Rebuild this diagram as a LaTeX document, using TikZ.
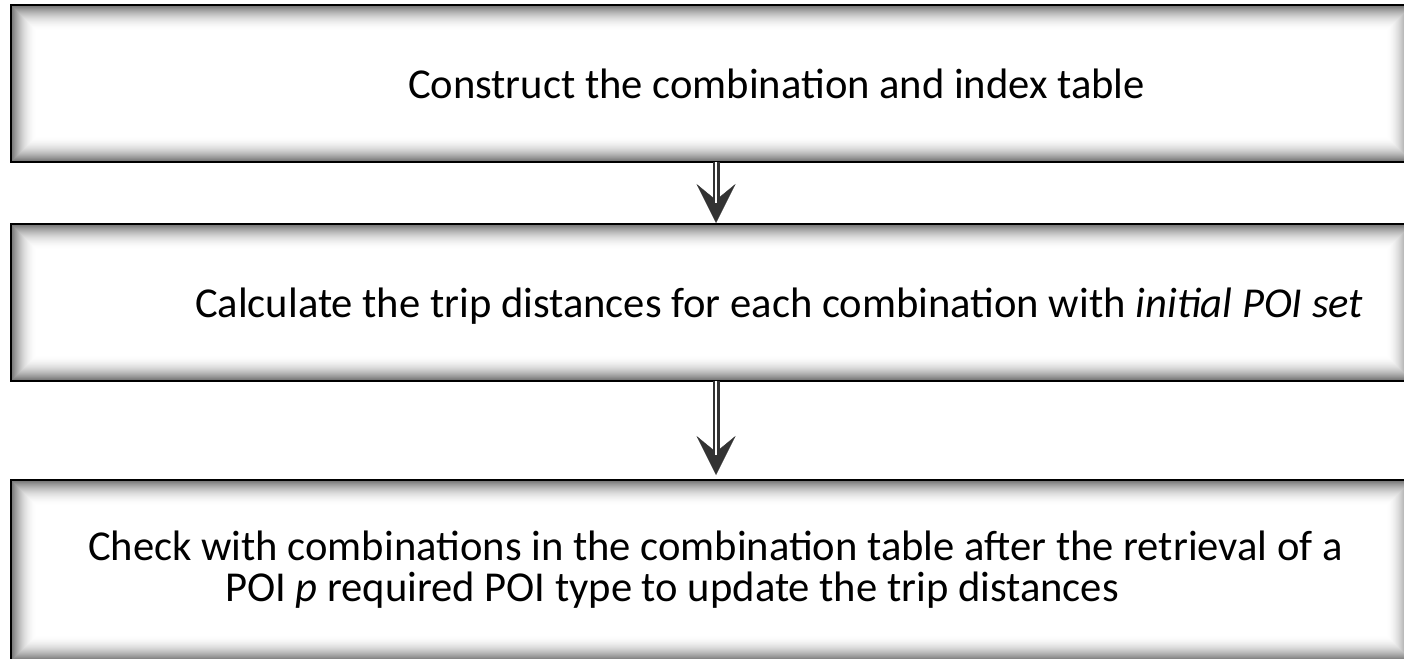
\documentclass[tikz,border=0pt]{standalone}
\usepackage{fontspec}
\setmainfont{Carlito}
\usetikzlibrary{arrows.meta}
\tikzset{
  box/.style={draw=black, line width=2pt, rectangle, inner sep=0pt, outer sep=0pt,
    path picture={
      \foreach \i in {1,...,26}{
        \pgfmathsetmacro\c{60*(1-\i/27)^2}
        \draw[black!\c, line width=1.2pt]
          ([xshift=\i pt, yshift=-\i pt]path picture bounding box.north west) rectangle
          ([xshift=-\i pt, yshift=\i pt]path picture bounding box.south east);
      }}},
  txt/.style={inner sep=0pt, outer sep=0pt, anchor=base west, font=\fontsize{42.6}{41}\selectfont},
  shaft/.style={draw=black!80, line width=2.2pt, double=white, double distance=2.6pt},
  head/.style={draw=black!80, line width=0.3pt,
    -{Stealth[length=39pt, width=39pt, inset=16pt, fill=black!80]}}
}
\begin{document}
\begin{tikzpicture}[x=1pt, y=-1pt]
\useasboundingbox (0,0) rectangle (1404,658);
\clip (0,0) rectangle (1404,658);
\fill[white] (0,0) rectangle (1404,658);
\node[box, minimum width=1401pt, minimum height=157pt] (b1) at (711.5,83.5) {};
\node[box, minimum width=1401pt, minimum height=157pt] (b2) at (711.5,302.5) {};
\node[box, minimum width=1401pt, minimum height=181pt] (b3) at (711.5,570.5) {};
\node[txt] (t1) at (408,99) {Construct the combination and index table};
\node[txt] (t2) at (195,317) {Calculate the trip distances for each combination with \textit{initial POI set}};
\node[txt] (t3) at (88,560) {Check with combinations in the combination table after the retrieval of a};
\node[txt] (t4) at (225,601) {POI \textit{p} required POI type to update the trip distances};
\draw[head, shorten >=1pt] ([xshift=4.5pt]b1.south) -- ([xshift=4.5pt]b2.north);
\draw[shaft, shorten >=21pt] ([xshift=4.5pt]b1.south) -- ([xshift=4.5pt]b2.north);
\draw[head, shorten >=5pt] ([xshift=4.5pt]b2.south) -- ([xshift=4.5pt]b3.north);
\draw[shaft, shorten >=25pt] ([xshift=4.5pt]b2.south) -- ([xshift=4.5pt]b3.north);
\end{tikzpicture}
\end{document}
